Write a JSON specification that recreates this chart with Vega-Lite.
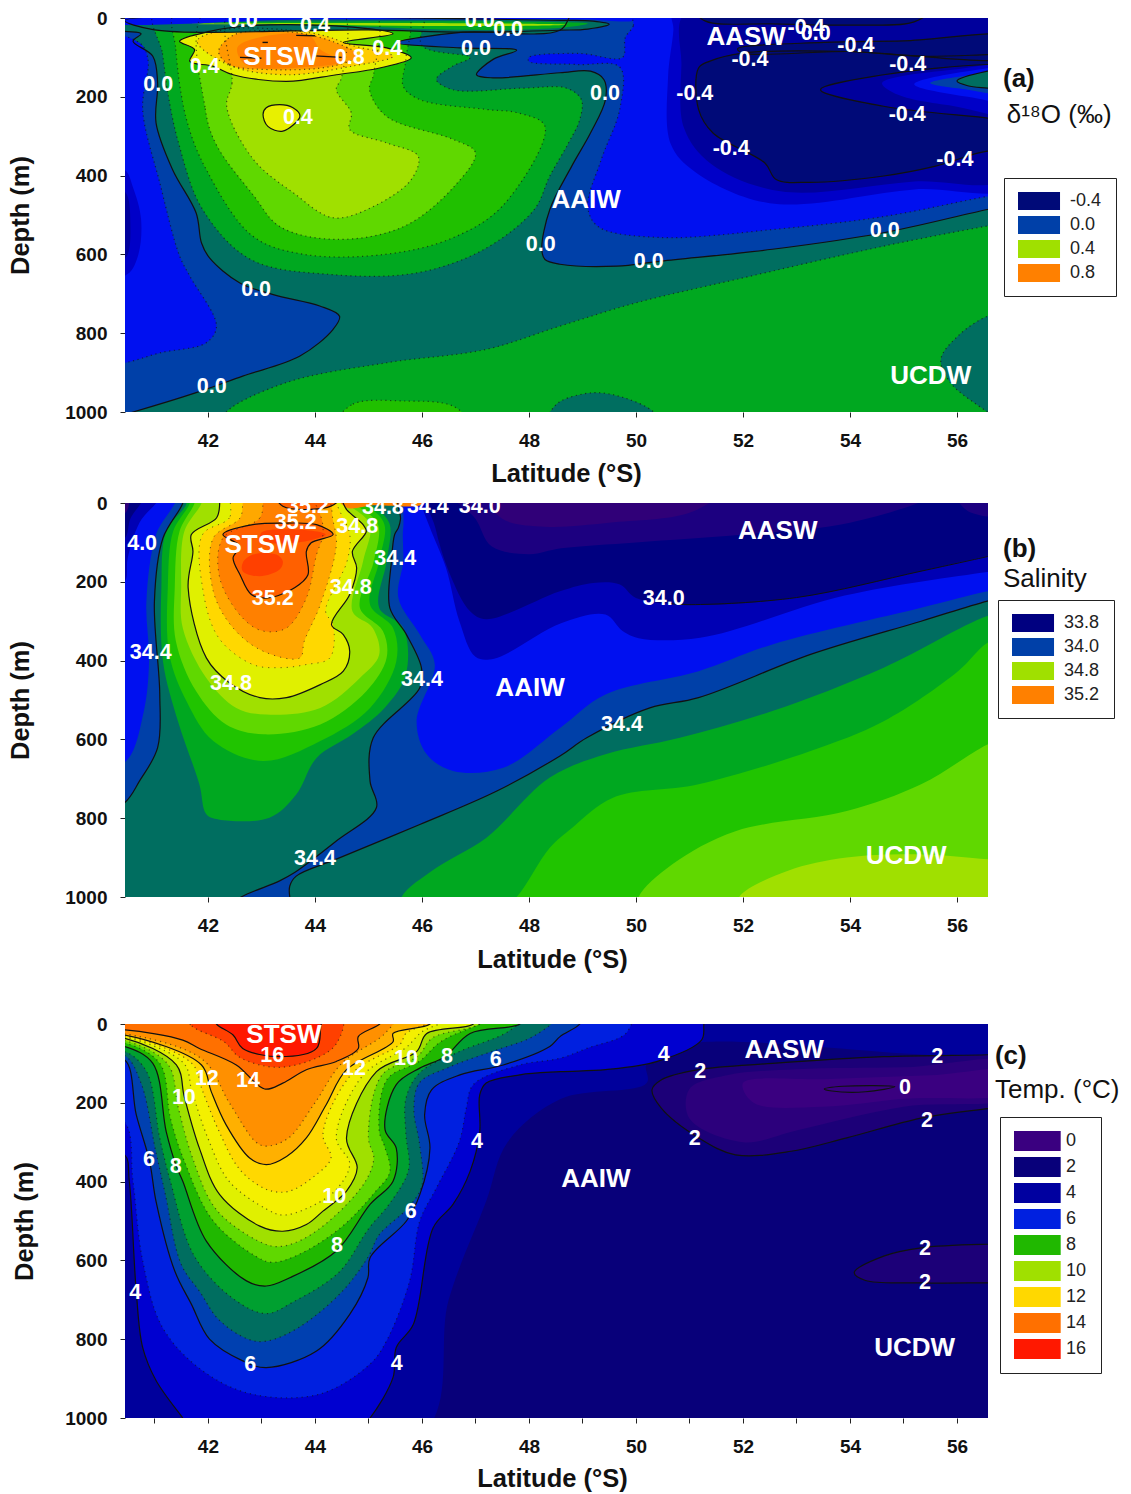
{"$schema":"https://vega.github.io/schema/vega-lite/v6.json","background":"white","padding":{"left":8,"top":9,"right":0,"bottom":0},"bounds":"flush","spacing":0,"resolve":{"scale":{"fill":"independent"},"legend":{"fill":"independent"}},"config":{"view":{"stroke":null},"font":"Liberation Sans","axis":{"labelFont":"Liberation Sans","titleFont":"Liberation Sans","labelFontWeight":"bold","titleFontWeight":"bold","labelFontSize":19,"titleFontSize":25.5,"labelColor":"#111","titleColor":"#111","domain":false,"grid":false,"tickColor":"#222","tickSize":5},"axisX":{"labelPadding":14},"axisY":{"labelPadding":13,"format":"d"},"legend":{"labelFont":"Liberation Sans","labelFontSize":18,"labelColor":"#222"}},
"datasets":{
"pa":[
{"n":0,"v":"0.08","x":39,"y":-80},{"n":0,"v":"0.08","x":58,"y":-80},{"n":0,"v":"0.08","x":58,"y":1080},{"n":0,"v":"0.08","x":39,"y":1080},
{"n":1,"v":"0.0","k":"c","x":40.44,"y":34},{"n":1,"v":"0.0","k":"c","x":40.75,"y":40},{"n":1,"v":"0.0","k":"c","x":40.6,"y":59},{"n":1,"v":"0.0","k":"c","x":40.97,"y":97},{"n":1,"v":"0.0","k":"c","x":41.06,"y":165},{"n":1,"v":"0.0","k":"c","x":41.03,"y":266},{"n":1,"v":"0.0","k":"c","x":41.34,"y":385},{"n":1,"v":"0.0","k":"c","x":41.78,"y":495},{"n":1,"v":"0.0","k":"c","x":41.88,"y":571},{"n":1,"v":"0.0","k":"c","x":42.03,"y":609},{"n":1,"v":"0.0","k":"c","x":42.59,"y":672},{"n":1,"v":"0.0","k":"c","x":43.22,"y":702},{"n":1,"v":"0.0","k":"c","x":44.09,"y":731},{"n":1,"v":"0.0","k":"c","x":44.46,"y":757},{"n":1,"v":"0.0","k":"c","x":44.34,"y":790},{"n":1,"v":"0.0","k":"c","x":43.72,"y":858},{"n":1,"v":"0.0","k":"c","x":42.65,"y":909},{"n":1,"v":"0.0","k":"c","x":41.78,"y":951},{"n":1,"v":"0.0","k":"c","x":40.6,"y":1000},{"n":1,"v":"0.0","k":"c","x":39.5,"y":1040},{"n":1,"v":"0.0","k":"c","x":39.5,"y":20},
{"n":2,"v":"-0.1","k":"d","x":40.72,"y":63},{"n":2,"v":"-0.1","k":"d","x":40.88,"y":106},{"n":2,"v":"-0.1","k":"d","x":40.78,"y":232},{"n":2,"v":"-0.1","k":"d","x":41.1,"y":418},{"n":2,"v":"-0.1","k":"d","x":41.47,"y":604},{"n":2,"v":"-0.1","k":"d","x":41.66,"y":655},{"n":2,"v":"-0.1","k":"d","x":42.16,"y":782},{"n":2,"v":"-0.1","k":"d","x":41.97,"y":824},{"n":2,"v":"-0.1","k":"d","x":41.1,"y":850},{"n":2,"v":"-0.1","k":"d","x":40.44,"y":875},{"n":2,"v":"-0.1","k":"d","x":39.8,"y":880},{"n":2,"v":"-0.1","k":"d","x":39.8,"y":50},
{"n":3,"v":"-0.2","x":40.44,"y":385},{"n":3,"v":"-0.2","x":40.6,"y":430},{"n":3,"v":"-0.2","x":40.75,"y":510},{"n":3,"v":"-0.2","x":40.7,"y":600},{"n":3,"v":"-0.2","x":40.5,"y":650},{"n":3,"v":"-0.2","x":40,"y":660},{"n":3,"v":"-0.2","x":40,"y":380},
{"n":4,"v":"-0.3","x":40.44,"y":440},{"n":4,"v":"-0.3","x":40.55,"y":520},{"n":4,"v":"-0.3","x":40.45,"y":610},{"n":4,"v":"-0.3","x":40,"y":600},{"n":4,"v":"-0.3","x":40,"y":440},
{"n":5,"v":"0.16","k":"d","x":41,"y":-20},{"n":5,"v":"0.16","k":"d","x":41.15,"y":90},{"n":5,"v":"0.16","k":"d","x":41.25,"y":190},{"n":5,"v":"0.16","k":"d","x":41.45,"y":317},{"n":5,"v":"0.16","k":"d","x":41.9,"y":486},{"n":5,"v":"0.16","k":"d","x":42.8,"y":613},{"n":5,"v":"0.16","k":"d","x":44.3,"y":651},{"n":5,"v":"0.16","k":"d","x":45.9,"y":647},{"n":5,"v":"0.16","k":"d","x":47.15,"y":588},{"n":5,"v":"0.16","k":"d","x":48.1,"y":486},{"n":5,"v":"0.16","k":"d","x":48.39,"y":401},{"n":5,"v":"0.16","k":"d","x":48.74,"y":317},{"n":5,"v":"0.16","k":"d","x":48.95,"y":258},{"n":5,"v":"0.16","k":"d","x":48.98,"y":207},{"n":5,"v":"0.16","k":"d","x":48.7,"y":178},{"n":5,"v":"0.16","k":"d","x":47.9,"y":178},{"n":5,"v":"0.16","k":"d","x":46.58,"y":182},{"n":5,"v":"0.16","k":"d","x":46.27,"y":156},{"n":5,"v":"0.16","k":"d","x":46.58,"y":122},{"n":5,"v":"0.16","k":"d","x":46.9,"y":100},{"n":5,"v":"0.16","k":"d","x":46,"y":70},{"n":5,"v":"0.16","k":"d","x":46,"y":-20},
{"n":6,"v":"0.24","k":"d","x":41.4,"y":-20},{"n":6,"v":"0.24","k":"d","x":41.4,"y":80},{"n":6,"v":"0.24","k":"d","x":41.6,"y":258},{"n":6,"v":"0.24","k":"d","x":41.97,"y":385},{"n":6,"v":"0.24","k":"d","x":42.84,"y":554},{"n":6,"v":"0.24","k":"d","x":43.8,"y":600},{"n":6,"v":"0.24","k":"d","x":45.3,"y":600},{"n":6,"v":"0.24","k":"d","x":46.54,"y":560},{"n":6,"v":"0.24","k":"d","x":47.5,"y":478},{"n":6,"v":"0.24","k":"d","x":48.3,"y":275},{"n":6,"v":"0.24","k":"d","x":47.8,"y":241},{"n":6,"v":"0.24","k":"d","x":47.2,"y":232},{"n":6,"v":"0.24","k":"d","x":45.96,"y":207},{"n":6,"v":"0.24","k":"d","x":45.65,"y":173},{"n":6,"v":"0.24","k":"d","x":45.7,"y":105},{"n":6,"v":"0.24","k":"d","x":45.7,"y":-20},
{"n":7,"v":"0.32","k":"d","x":41.95,"y":-20},{"n":7,"v":"0.32","k":"d","x":41.95,"y":230},{"n":7,"v":"0.32","k":"d","x":42.15,"y":320},{"n":7,"v":"0.32","k":"d","x":42.85,"y":450},{"n":7,"v":"0.32","k":"d","x":43.35,"y":530},{"n":7,"v":"0.32","k":"d","x":44.4,"y":562},{"n":7,"v":"0.32","k":"d","x":45.65,"y":530},{"n":7,"v":"0.32","k":"d","x":46.6,"y":428},{"n":7,"v":"0.32","k":"d","x":47,"y":342},{"n":7,"v":"0.32","k":"d","x":46.58,"y":308},{"n":7,"v":"0.32","k":"d","x":45.34,"y":250},{"n":7,"v":"0.32","k":"d","x":45.02,"y":182},{"n":7,"v":"0.32","k":"d","x":45.1,"y":140},{"n":7,"v":"0.32","k":"d","x":45.1,"y":-20},
{"n":8,"v":"0.4","k":"d","x":42.4,"y":-20},{"n":8,"v":"0.4","k":"d","x":42.45,"y":165},{"n":8,"v":"0.4","k":"d","x":42.35,"y":224},{"n":8,"v":"0.4","k":"d","x":42.85,"y":359},{"n":8,"v":"0.4","k":"d","x":43.6,"y":444},{"n":8,"v":"0.4","k":"d","x":44.34,"y":507},{"n":8,"v":"0.4","k":"d","x":45.1,"y":478},{"n":8,"v":"0.4","k":"d","x":45.8,"y":410},{"n":8,"v":"0.4","k":"d","x":45.93,"y":351},{"n":8,"v":"0.4","k":"d","x":45.34,"y":317},{"n":8,"v":"0.4","k":"d","x":44.65,"y":283},{"n":8,"v":"0.4","k":"d","x":44.68,"y":241},{"n":8,"v":"0.4","k":"d","x":44.4,"y":182},{"n":8,"v":"0.4","k":"d","x":44.5,"y":150},{"n":8,"v":"0.4","k":"d","x":44.5,"y":-20},
{"n":9,"v":"0.5","k":"c","x":41.47,"y":59},{"n":9,"v":"0.5","k":"c","x":41.75,"y":80},{"n":9,"v":"0.5","k":"c","x":41.66,"y":110},{"n":9,"v":"0.5","k":"c","x":42.09,"y":122},{"n":9,"v":"0.5","k":"c","x":42.47,"y":144},{"n":9,"v":"0.5","k":"c","x":43.47,"y":161},{"n":9,"v":"0.5","k":"c","x":44.4,"y":144},{"n":9,"v":"0.5","k":"c","x":45.21,"y":127},{"n":9,"v":"0.5","k":"c","x":45.8,"y":101},{"n":9,"v":"0.5","k":"c","x":45.34,"y":76},{"n":9,"v":"0.5","k":"c","x":44.53,"y":62},{"n":9,"v":"0.5","k":"c","x":45.46,"y":40},{"n":9,"v":"0.5","k":"c","x":44.71,"y":23},{"n":9,"v":"0.5","k":"c","x":42.84,"y":19},{"n":9,"v":"0.5","k":"c","x":42.03,"y":34},
{"n":10,"v":"0.5","k":"c","x":43.03,"y":245},{"n":10,"v":"0.5","k":"c","x":43.09,"y":228},{"n":10,"v":"0.5","k":"c","x":43.34,"y":220},{"n":10,"v":"0.5","k":"c","x":43.59,"y":228},{"n":10,"v":"0.5","k":"c","x":43.72,"y":249},{"n":10,"v":"0.5","k":"c","x":43.4,"y":287},{"n":10,"v":"0.5","k":"c","x":43.12,"y":275},
{"n":11,"v":"0.6","k":"d","x":41.8,"y":59},{"n":11,"v":"0.6","k":"d","x":42.4,"y":120},{"n":11,"v":"0.6","k":"d","x":43.47,"y":144},{"n":11,"v":"0.6","k":"d","x":44.7,"y":122},{"n":11,"v":"0.6","k":"d","x":45.46,"y":97},{"n":11,"v":"0.6","k":"d","x":44.7,"y":70},{"n":11,"v":"0.6","k":"d","x":44.2,"y":46},{"n":11,"v":"0.6","k":"d","x":43.47,"y":30},{"n":11,"v":"0.6","k":"d","x":42.3,"y":30},
{"n":12,"v":"0.7","k":"d","x":42.2,"y":85},{"n":12,"v":"0.7","k":"d","x":42.4,"y":118},{"n":12,"v":"0.7","k":"d","x":43.15,"y":131},{"n":12,"v":"0.7","k":"d","x":44.34,"y":122},{"n":12,"v":"0.7","k":"d","x":44.8,"y":95},{"n":12,"v":"0.7","k":"d","x":44.34,"y":60},{"n":12,"v":"0.7","k":"d","x":43.5,"y":35},{"n":12,"v":"0.7","k":"d","x":42.5,"y":42},
{"n":13,"v":"0.8","x":42.55,"y":75},{"n":13,"v":"0.8","x":43,"y":48},{"n":13,"v":"0.8","x":43.9,"y":45},{"n":13,"v":"0.8","x":44.1,"y":80},{"n":13,"v":"0.8","x":44.5,"y":110},{"n":13,"v":"0.8","x":43.8,"y":125},{"n":13,"v":"0.8","x":42.7,"y":118},
{"n":14,"k":"o","x":42.6,"y":100},{"n":14,"k":"o","x":43,"y":102},{"n":15,"k":"o","x":44,"y":96},{"n":15,"k":"o","x":44.5,"y":100},{"n":16,"k":"o","x":43.65,"y":44},{"n":16,"k":"o","x":44,"y":45},{"n":17,"k":"o","x":43.02,"y":62},{"n":17,"k":"o","x":43.12,"y":62},
{"n":18,"v":"0.0","k":"c","x":48.9,"y":-20},{"n":18,"v":"0.0","k":"c","x":48.58,"y":31},{"n":18,"v":"0.0","k":"c","x":46.77,"y":36},{"n":18,"v":"0.0","k":"c","x":45.52,"y":63},{"n":18,"v":"0.0","k":"c","x":46.71,"y":76},{"n":18,"v":"0.0","k":"c","x":47.77,"y":82},{"n":18,"v":"0.0","k":"c","x":47.33,"y":105},{"n":18,"v":"0.0","k":"c","x":47.02,"y":144},{"n":18,"v":"0.0","k":"c","x":47.33,"y":152},{"n":18,"v":"0.0","k":"c","x":48.58,"y":139},{"n":18,"v":"0.0","k":"c","x":49.15,"y":135},{"n":18,"v":"0.0","k":"c","x":49.4,"y":156},{"n":18,"v":"0.0","k":"c","x":49.43,"y":207},{"n":18,"v":"0.0","k":"c","x":49.15,"y":292},{"n":18,"v":"0.0","k":"c","x":48.8,"y":376},{"n":18,"v":"0.0","k":"c","x":48.39,"y":486},{"n":18,"v":"0.0","k":"c","x":48.24,"y":587},{"n":18,"v":"0.0","k":"c","x":48.3,"y":613},{"n":18,"v":"0.0","k":"c","x":48.58,"y":625},{"n":18,"v":"0.0","k":"c","x":49.64,"y":630},{"n":18,"v":"0.0","k":"c","x":50.47,"y":617},{"n":18,"v":"0.0","k":"c","x":52.55,"y":587},{"n":18,"v":"0.0","k":"c","x":54.63,"y":545},{"n":18,"v":"0.0","k":"c","x":56.57,"y":486},{"n":18,"v":"0.0","k":"c","x":57.2,"y":470},{"n":18,"v":"0.0","k":"c","x":57.2,"y":-20},
{"n":19,"v":"0.16","k":"d","x":42.2,"y":1040},{"n":19,"v":"0.16","k":"d","x":42.34,"y":1000},{"n":19,"v":"0.16","k":"d","x":43.47,"y":925},{"n":19,"v":"0.16","k":"d","x":45.34,"y":875},{"n":19,"v":"0.16","k":"d","x":47.2,"y":841},{"n":19,"v":"0.16","k":"d","x":48.58,"y":782},{"n":19,"v":"0.16","k":"d","x":50,"y":723},{"n":19,"v":"0.16","k":"d","x":51.86,"y":664},{"n":19,"v":"0.16","k":"d","x":54.63,"y":579},{"n":19,"v":"0.16","k":"d","x":56.57,"y":528},{"n":19,"v":"0.16","k":"d","x":57.2,"y":515},{"n":19,"v":"0.16","k":"d","x":57.2,"y":740},{"n":19,"v":"0.16","k":"d","x":56.57,"y":757},{"n":19,"v":"0.16","k":"d","x":56.02,"y":807},{"n":19,"v":"0.16","k":"d","x":55.7,"y":866},{"n":19,"v":"0.16","k":"d","x":55.88,"y":926},{"n":19,"v":"0.16","k":"d","x":56.57,"y":1000},{"n":19,"v":"0.16","k":"d","x":57,"y":1040},{"n":19,"v":"0.16","k":"d","x":50.5,"y":1040},{"n":19,"v":"0.16","k":"d","x":50.33,"y":1000},{"n":19,"v":"0.16","k":"d","x":49.78,"y":964},{"n":19,"v":"0.16","k":"d","x":49.22,"y":951},{"n":19,"v":"0.16","k":"d","x":48.6,"y":972},{"n":19,"v":"0.16","k":"d","x":48.39,"y":1000},{"n":19,"v":"0.16","k":"d","x":48.2,"y":1040},
{"n":20,"v":"0.24","k":"d","x":44.4,"y":1030},{"n":20,"v":"0.24","k":"d","x":44.71,"y":980},{"n":20,"v":"0.24","k":"d","x":45.65,"y":972},{"n":20,"v":"0.24","k":"d","x":46.58,"y":985},{"n":20,"v":"0.24","k":"d","x":46.9,"y":1030},
{"n":21,"v":"-0.1","k":"d","x":49.95,"y":-20},{"n":21,"v":"-0.1","k":"d","x":49.95,"y":20},{"n":21,"v":"-0.1","k":"d","x":49.8,"y":50},{"n":21,"v":"-0.1","k":"d","x":49.75,"y":100},{"n":21,"v":"-0.1","k":"d","x":48.95,"y":90},{"n":21,"v":"-0.1","k":"d","x":48,"y":100},{"n":21,"v":"-0.1","k":"d","x":48,"y":110},{"n":21,"v":"-0.1","k":"d","x":48.9,"y":118},{"n":21,"v":"-0.1","k":"d","x":49.7,"y":125},{"n":21,"v":"-0.1","k":"d","x":49.7,"y":230},{"n":21,"v":"-0.1","k":"d","x":49.35,"y":360},{"n":21,"v":"-0.1","k":"d","x":49.1,"y":480},{"n":21,"v":"-0.1","k":"d","x":49.3,"y":530},{"n":21,"v":"-0.1","k":"d","x":50.45,"y":557},{"n":21,"v":"-0.1","k":"d","x":52.55,"y":537},{"n":21,"v":"-0.1","k":"d","x":54.63,"y":504},{"n":21,"v":"-0.1","k":"d","x":56.6,"y":452},{"n":21,"v":"-0.1","k":"d","x":57.2,"y":440},{"n":21,"v":"-0.1","k":"d","x":57.2,"y":-20},
{"n":22,"v":"-0.2","x":50.7,"y":-20},{"n":22,"v":"-0.2","x":50.7,"y":30},{"n":22,"v":"-0.2","x":50.6,"y":150},{"n":22,"v":"-0.2","x":50.65,"y":320},{"n":22,"v":"-0.2","x":51.1,"y":390},{"n":22,"v":"-0.2","x":52.5,"y":470},{"n":22,"v":"-0.2","x":55.2,"y":435},{"n":22,"v":"-0.2","x":57.2,"y":420},{"n":22,"v":"-0.2","x":57.2,"y":-20},
{"n":23,"v":"-0.3","x":50.95,"y":-20},{"n":23,"v":"-0.3","x":50.85,"y":120},{"n":23,"v":"-0.3","x":50.9,"y":280},{"n":23,"v":"-0.3","x":51.4,"y":370},{"n":23,"v":"-0.3","x":52.7,"y":440},{"n":23,"v":"-0.3","x":55.2,"y":415},{"n":23,"v":"-0.3","x":57,"y":400},{"n":23,"v":"-0.3","x":57,"y":-20},
{"n":24,"v":"-0.4","k":"c","x":51.17,"y":127},{"n":24,"v":"-0.4","k":"c","x":51.37,"y":110},{"n":24,"v":"-0.4","k":"c","x":52,"y":89},{"n":24,"v":"-0.4","k":"c","x":53.94,"y":85},{"n":24,"v":"-0.4","k":"c","x":55.33,"y":97},{"n":24,"v":"-0.4","k":"c","x":56.57,"y":93},{"n":24,"v":"-0.4","k":"c","x":57.2,"y":90},{"n":24,"v":"-0.4","k":"c","x":57.2,"y":120},{"n":24,"v":"-0.4","k":"c","x":56.57,"y":118},{"n":24,"v":"-0.4","k":"c","x":54.63,"y":144},{"n":24,"v":"-0.4","k":"c","x":53.45,"y":182},{"n":24,"v":"-0.4","k":"c","x":54.63,"y":224},{"n":24,"v":"-0.4","k":"c","x":56.57,"y":254},{"n":24,"v":"-0.4","k":"c","x":57.2,"y":265},{"n":24,"v":"-0.4","k":"c","x":57.2,"y":340},{"n":24,"v":"-0.4","k":"c","x":56.57,"y":338},{"n":24,"v":"-0.4","k":"c","x":55.6,"y":376},{"n":24,"v":"-0.4","k":"c","x":54.63,"y":401},{"n":24,"v":"-0.4","k":"c","x":53.25,"y":417},{"n":24,"v":"-0.4","k":"c","x":52.62,"y":410},{"n":24,"v":"-0.4","k":"c","x":52.41,"y":368},{"n":24,"v":"-0.4","k":"c","x":51.44,"y":292},{"n":24,"v":"-0.4","k":"c","x":51.17,"y":232},
{"n":25,"v":"-0.2","x":54.6,"y":165},{"n":25,"v":"-0.2","x":56,"y":130},{"n":25,"v":"-0.2","x":57.2,"y":125},{"n":25,"v":"-0.2","x":57.2,"y":245},{"n":25,"v":"-0.2","x":56,"y":225},{"n":25,"v":"-0.2","x":54.9,"y":195},
{"n":26,"v":"-0.1","x":55.2,"y":168},{"n":26,"v":"-0.1","x":56.2,"y":135},{"n":26,"v":"-0.1","x":57.2,"y":130},{"n":26,"v":"-0.1","x":57.2,"y":210},{"n":26,"v":"-0.1","x":56.2,"y":200},
{"n":27,"v":"0.0","x":55.5,"y":165},{"n":27,"v":"0.0","x":56.1,"y":148},{"n":27,"v":"0.0","x":57.2,"y":135},{"n":27,"v":"0.0","x":57.2,"y":190},{"n":27,"v":"0.0","x":56.1,"y":180},
{"n":28,"v":"0.08","k":"c","x":56.0,"y":160},{"n":28,"v":"0.08","k":"c","x":56.57,"y":135},{"n":28,"v":"0.08","k":"c","x":57.2,"y":125},{"n":28,"v":"0.08","k":"c","x":57.2,"y":185},{"n":28,"v":"0.08","k":"c","x":56.57,"y":178},{"n":28,"v":"0.08","k":"c","x":56.2,"y":172},
{"n":29,"v":"-0.4","k":"c","x":51.9,"y":78},{"n":29,"v":"-0.4","k":"c","x":53.5,"y":62},{"n":29,"v":"-0.4","k":"c","x":55,"y":58},{"n":29,"v":"-0.4","k":"c","x":57.2,"y":50},{"n":29,"v":"-0.4","k":"c","x":57.2,"y":95},{"n":29,"v":"-0.4","k":"c","x":53.94,"y":85},{"n":29,"v":"-0.4","k":"c","x":52,"y":89},
{"n":30,"v":"-0.4","k":"c","x":51.1,"y":-20},{"n":30,"v":"-0.4","k":"c","x":51.3,"y":8},{"n":30,"v":"-0.4","k":"c","x":52.5,"y":15},{"n":30,"v":"-0.4","k":"c","x":54,"y":18},{"n":30,"v":"-0.4","k":"c","x":55.2,"y":10},{"n":30,"v":"-0.4","k":"c","x":55.5,"y":-20},
{"n":31,"v":"0.08","k":"c","x":40.44,"y":6},{"n":31,"v":"0.08","k":"c","x":48.6,"y":6},{"n":31,"v":"0.08","k":"c","x":49.2,"y":8},{"n":31,"v":"0.08","k":"c","x":49.5,"y":16},{"n":31,"v":"0.08","k":"c","x":49.1,"y":28},{"n":31,"v":"0.08","k":"c","x":48.58,"y":31},{"n":31,"v":"0.08","k":"c","x":46.77,"y":36},{"n":31,"v":"0.08","k":"c","x":45,"y":30},{"n":31,"v":"0.08","k":"c","x":41,"y":30},
{"n":32,"v":"0.16","x":41.2,"y":12},{"n":32,"v":"0.16","x":44,"y":9},{"n":32,"v":"0.16","x":48.4,"y":10},{"n":32,"v":"0.16","x":49.1,"y":14},{"n":32,"v":"0.16","x":48.6,"y":25},{"n":32,"v":"0.16","x":46.7,"y":30},{"n":32,"v":"0.16","x":44,"y":17},
{"n":33,"v":"0.4","x":41.7,"y":15},{"n":33,"v":"0.4","x":44,"y":13},{"n":33,"v":"0.4","x":47.5,"y":14},{"n":33,"v":"0.4","x":48.7,"y":17},{"n":33,"v":"0.4","x":47.8,"y":20},{"n":33,"v":"0.4","x":46,"y":20},{"n":33,"v":"0.4","x":44,"y":17},
{"n":34,"v":"-0.1","x":39.5,"y":-20},{"n":34,"v":"-0.1","x":39.5,"y":3},{"n":34,"v":"-0.1","x":44,"y":4},{"n":34,"v":"-0.1","x":49,"y":4},{"n":34,"v":"-0.1","x":50,"y":3},{"n":34,"v":"-0.1","x":50,"y":-20}
],
"la":[{"t":"contour","s":"0.0","x":42.65,"y":8},{"t":"contour","s":"0.4","x":44,"y":20},{"t":"contour","s":"0.4","x":41.94,"y":124},{"t":"contour","s":"0.0","x":41.07,"y":170},{"t":"water","s":"STSW","x":43.36,"y":99},{"t":"contour","s":"0.8","x":44.65,"y":102},{"t":"contour","s":"0.4","x":45.35,"y":79},{"t":"contour","s":"0.4","x":43.68,"y":254},{"t":"contour","s":"0.0","x":47.08,"y":8},{"t":"contour","s":"0.0","x":47.61,"y":30},{"t":"contour","s":"0.0","x":47.01,"y":79},{"t":"contour","s":"0.0","x":49.42,"y":193},{"t":"water","s":"AASW","x":52.06,"y":48},{"t":"contour","s":"-0.4","x":53.18,"y":25},{"t":"contour","s":"0.0","x":53.36,"y":41},{"t":"contour","s":"-0.4","x":54.11,"y":71},{"t":"contour","s":"-0.4","x":52.13,"y":107},{"t":"contour","s":"-0.4","x":55.08,"y":119},{"t":"contour","s":"-0.4","x":51.1,"y":193},{"t":"contour","s":"-0.4","x":55.07,"y":246},{"t":"contour","s":"-0.4","x":51.78,"y":332},{"t":"contour","s":"-0.4","x":55.96,"y":360},{"t":"water","s":"AAIW","x":49.07,"y":462},{"t":"contour","s":"0.0","x":48.22,"y":576},{"t":"contour","s":"0.0","x":50.24,"y":619},{"t":"contour","s":"0.0","x":54.65,"y":541},{"t":"contour","s":"0.0","x":42.9,"y":690},{"t":"contour","s":"0.0","x":42.07,"y":937},{"t":"water","s":"UCDW","x":55.51,"y":909}],
"na":[{"t":"tag","s":"(a)","x":56.86,"y":155},{"t":"name","s":"δ¹⁸O (‰)","x":56.93,"y":246}],
"pb":[
{"n":0,"v":"34.45","x":39,"y":-80},{"n":0,"v":"34.45","x":58,"y":-80},{"n":0,"v":"34.45","x":58,"y":1080},{"n":0,"v":"34.45","x":39,"y":1080},
{"n":1,"v":"34.0","k":"c","x":41.53,"y":-20},{"n":1,"v":"34.0","k":"c","x":41.53,"y":0},{"n":1,"v":"34.0","k":"c","x":41.16,"y":89},{"n":1,"v":"34.0","k":"c","x":41,"y":249},{"n":1,"v":"34.0","k":"c","x":41.1,"y":486},{"n":1,"v":"34.0","k":"c","x":41.06,"y":621},{"n":1,"v":"34.0","k":"c","x":40.72,"y":706},{"n":1,"v":"34.0","k":"c","x":40.44,"y":761},{"n":1,"v":"34.0","k":"c","x":39.8,"y":800},{"n":1,"v":"34.0","k":"c","x":39.8,"y":-20},
{"n":2,"v":"33.95","x":41.4,"y":-20},{"n":2,"v":"33.95","x":41.03,"y":80},{"n":2,"v":"33.95","x":40.85,"y":250},{"n":2,"v":"33.95","x":40.9,"y":400},{"n":2,"v":"33.95","x":40.8,"y":530},{"n":2,"v":"33.95","x":40.47,"y":655},{"n":2,"v":"33.95","x":39.9,"y":670},{"n":2,"v":"33.95","x":39.9,"y":-20},
{"n":3,"v":"33.9","x":41.1,"y":-20},{"n":3,"v":"33.9","x":40.72,"y":50},{"n":3,"v":"33.9","x":40.5,"y":140},{"n":3,"v":"33.9","x":40.44,"y":200},{"n":3,"v":"33.9","x":40,"y":210},{"n":3,"v":"33.9","x":40,"y":-20},
{"n":4,"v":"33.8","x":40.8,"y":-20},{"n":4,"v":"33.8","x":40.55,"y":40},{"n":4,"v":"33.8","x":40.44,"y":90},{"n":4,"v":"33.8","x":40,"y":100},{"n":4,"v":"33.8","x":40,"y":-20},
{"n":5,"v":"33.4","x":40,"y":-20},{"n":5,"v":"33.4","x":40.5,"y":-20},{"n":5,"v":"33.4","x":40.46,"y":25},{"n":5,"v":"33.4","x":40,"y":40},
{"n":6,"v":"34.0","k":"c","x":45.6,"y":-20},{"n":6,"v":"34.0","k":"c","x":45.6,"y":40},{"n":6,"v":"34.0","k":"c","x":45.56,"y":63},{"n":6,"v":"34.0","k":"c","x":45.49,"y":80},{"n":6,"v":"34.0","k":"c","x":45.43,"y":148},{"n":6,"v":"34.0","k":"c","x":45.4,"y":266},{"n":6,"v":"34.0","k":"c","x":45.71,"y":334},{"n":6,"v":"34.0","k":"c","x":45.99,"y":418},{"n":6,"v":"34.0","k":"c","x":45.96,"y":469},{"n":6,"v":"34.0","k":"c","x":45.09,"y":596},{"n":6,"v":"34.0","k":"c","x":45.03,"y":706},{"n":6,"v":"34.0","k":"c","x":45.15,"y":773},{"n":6,"v":"34.0","k":"c","x":44.4,"y":858},{"n":6,"v":"34.0","k":"c","x":43.62,"y":938},{"n":6,"v":"34.0","k":"c","x":43.34,"y":959},{"n":6,"v":"34.0","k":"c","x":42.62,"y":1000},{"n":6,"v":"34.0","k":"c","x":42.3,"y":1030},{"n":6,"v":"34.0","k":"c","x":43.6,"y":1030},{"n":6,"v":"34.0","k":"c","x":43.53,"y":1000},{"n":6,"v":"34.0","k":"c","x":43.53,"y":972},{"n":6,"v":"34.0","k":"c","x":43.65,"y":947},{"n":6,"v":"34.0","k":"c","x":44.4,"y":904},{"n":6,"v":"34.0","k":"c","x":45.96,"y":816},{"n":6,"v":"34.0","k":"c","x":47.4,"y":731},{"n":6,"v":"34.0","k":"c","x":48.58,"y":642},{"n":6,"v":"34.0","k":"c","x":49.08,"y":596},{"n":6,"v":"34.0","k":"c","x":50.26,"y":520},{"n":6,"v":"34.0","k":"c","x":51.17,"y":494},{"n":6,"v":"34.0","k":"c","x":53.25,"y":385},{"n":6,"v":"34.0","k":"c","x":55.33,"y":300},{"n":6,"v":"34.0","k":"c","x":56.57,"y":249},{"n":6,"v":"34.0","k":"c","x":57.2,"y":230},{"n":6,"v":"34.0","k":"c","x":57.2,"y":-20},
{"n":7,"v":"33.95","x":45.8,"y":-20},{"n":7,"v":"33.95","x":45.65,"y":63},{"n":7,"v":"33.95","x":45.65,"y":148},{"n":7,"v":"33.95","x":45.56,"y":241},{"n":7,"v":"33.95","x":45.96,"y":334},{"n":7,"v":"33.95","x":46.24,"y":410},{"n":7,"v":"33.95","x":45.9,"y":554},{"n":7,"v":"33.95","x":46.09,"y":638},{"n":7,"v":"33.95","x":46.58,"y":680},{"n":7,"v":"33.95","x":47.52,"y":672},{"n":7,"v":"33.95","x":48.58,"y":571},{"n":7,"v":"33.95","x":49.43,"y":486},{"n":7,"v":"33.95","x":51.17,"y":427},{"n":7,"v":"33.95","x":52.55,"y":359},{"n":7,"v":"33.95","x":55.33,"y":266},{"n":7,"v":"33.95","x":56.57,"y":224},{"n":7,"v":"33.95","x":57.2,"y":210},{"n":7,"v":"33.95","x":57.2,"y":-20},
{"n":8,"v":"33.9","x":46,"y":-20},{"n":8,"v":"33.9","x":46,"y":5},{"n":8,"v":"33.9","x":46.15,"y":63},{"n":8,"v":"33.9","x":46.45,"y":165},{"n":8,"v":"33.9","x":46.7,"y":300},{"n":8,"v":"33.9","x":47,"y":390},{"n":8,"v":"33.9","x":47.35,"y":395},{"n":8,"v":"33.9","x":48.6,"y":305},{"n":8,"v":"33.9","x":49.43,"y":283},{"n":8,"v":"33.9","x":49.75,"y":325},{"n":8,"v":"33.9","x":50.05,"y":343},{"n":8,"v":"33.9","x":51.2,"y":342},{"n":8,"v":"33.9","x":53.9,"y":235},{"n":8,"v":"33.9","x":56.57,"y":175},{"n":8,"v":"33.9","x":57.2,"y":165},{"n":8,"v":"33.9","x":57.2,"y":-20},
{"n":9,"v":"33.8","x":46.15,"y":-20},{"n":9,"v":"33.8","x":46.25,"y":63},{"n":9,"v":"33.8","x":46.5,"y":173},{"n":9,"v":"33.8","x":46.9,"y":275},{"n":9,"v":"33.8","x":47.2,"y":295},{"n":9,"v":"33.8","x":48.58,"y":224},{"n":9,"v":"33.8","x":49.2,"y":203},{"n":9,"v":"33.8","x":49.7,"y":207},{"n":9,"v":"33.8","x":50,"y":241},{"n":9,"v":"33.8","x":51.03,"y":258},{"n":9,"v":"33.8","x":53,"y":240},{"n":9,"v":"33.8","x":55.33,"y":173},{"n":9,"v":"33.8","x":56.57,"y":135},{"n":9,"v":"33.8","x":57.2,"y":125},{"n":9,"v":"33.8","x":57.2,"y":-20},
{"n":10,"k":"o","x":50.6,"y":255},{"n":10,"k":"o","x":51.03,"y":258},{"n":10,"k":"o","x":53,"y":240},{"n":10,"k":"o","x":55.33,"y":173},{"n":10,"k":"o","x":56.6,"y":135},
{"n":11,"v":"33.6","x":46.6,"y":-20},{"n":11,"v":"33.6","x":47,"y":40},{"n":11,"v":"33.6","x":47.3,"y":110},{"n":11,"v":"33.6","x":48,"y":130},{"n":11,"v":"33.6","x":48.6,"y":115},{"n":11,"v":"33.6","x":50,"y":100},{"n":11,"v":"33.6","x":52,"y":80},{"n":11,"v":"33.6","x":54,"y":50},{"n":11,"v":"33.6","x":55.5,"y":-20},
{"n":12,"v":"33.4","x":47.2,"y":-20},{"n":12,"v":"33.4","x":47.5,"y":40},{"n":12,"v":"33.4","x":48.3,"y":60},{"n":12,"v":"33.4","x":49.5,"y":50},{"n":12,"v":"33.4","x":51,"y":25},{"n":12,"v":"33.4","x":51.5,"y":-20},
{"n":13,"v":"33.6","x":56,"y":-20},{"n":13,"v":"33.6","x":56.2,"y":20},{"n":13,"v":"33.6","x":57,"y":30},{"n":13,"v":"33.6","x":57,"y":-20},
{"n":14,"v":"34.5","x":41.5,"y":-20},{"n":14,"v":"34.5","x":41.6,"y":0},{"n":14,"v":"34.5","x":41.22,"y":72},{"n":14,"v":"34.5","x":41.13,"y":215},{"n":14,"v":"34.5","x":41.16,"y":402},{"n":14,"v":"34.5","x":41.44,"y":554},{"n":14,"v":"34.5","x":41.84,"y":714},{"n":14,"v":"34.5","x":41.97,"y":790},{"n":14,"v":"34.5","x":42.2,"y":803},{"n":14,"v":"34.5","x":43.15,"y":799},{"n":14,"v":"34.5","x":43.65,"y":740},{"n":14,"v":"34.5","x":44.03,"y":647},{"n":14,"v":"34.5","x":44.7,"y":587},{"n":14,"v":"34.5","x":45.3,"y":520},{"n":14,"v":"34.5","x":45.7,"y":435},{"n":14,"v":"34.5","x":45.65,"y":317},{"n":14,"v":"34.5","x":45.2,"y":266},{"n":14,"v":"34.5","x":45.34,"y":148},{"n":14,"v":"34.5","x":45.4,"y":55},{"n":14,"v":"34.5","x":45.2,"y":20},{"n":14,"v":"34.5","x":44.6,"y":-20},
{"n":15,"v":"34.6","x":41.65,"y":-20},{"n":15,"v":"34.6","x":41.66,"y":0},{"n":15,"v":"34.6","x":41.35,"y":72},{"n":15,"v":"34.6","x":41.25,"y":215},{"n":15,"v":"34.6","x":41.28,"y":385},{"n":15,"v":"34.6","x":41.6,"y":503},{"n":15,"v":"34.6","x":42.1,"y":604},{"n":15,"v":"34.6","x":43.03,"y":655},{"n":15,"v":"34.6","x":44.1,"y":604},{"n":15,"v":"34.6","x":45.03,"y":520},{"n":15,"v":"34.6","x":45.52,"y":402},{"n":15,"v":"34.6","x":45.46,"y":317},{"n":15,"v":"34.6","x":45.03,"y":258},{"n":15,"v":"34.6","x":45.2,"y":148},{"n":15,"v":"34.6","x":45.3,"y":55},{"n":15,"v":"34.6","x":45.03,"y":12},{"n":15,"v":"34.6","x":44.5,"y":-20},
{"n":16,"v":"34.7","x":41.75,"y":-20},{"n":16,"v":"34.7","x":41.75,"y":0},{"n":16,"v":"34.7","x":41.47,"y":72},{"n":16,"v":"34.7","x":41.38,"y":215},{"n":16,"v":"34.7","x":41.4,"y":350},{"n":16,"v":"34.7","x":41.78,"y":478},{"n":16,"v":"34.7","x":42.34,"y":562},{"n":16,"v":"34.7","x":43.03,"y":587},{"n":16,"v":"34.7","x":44.1,"y":562},{"n":16,"v":"34.7","x":44.96,"y":478},{"n":16,"v":"34.7","x":45.34,"y":393},{"n":16,"v":"34.7","x":45.27,"y":325},{"n":16,"v":"34.7","x":44.84,"y":266},{"n":16,"v":"34.7","x":45.1,"y":148},{"n":16,"v":"34.7","x":45.18,"y":55},{"n":16,"v":"34.7","x":44.84,"y":12},{"n":16,"v":"34.7","x":44.4,"y":-20},
{"n":17,"v":"34.8","x":41.88,"y":-20},{"n":17,"v":"34.8","x":41.88,"y":0},{"n":17,"v":"34.8","x":41.56,"y":72},{"n":17,"v":"34.8","x":41.5,"y":215},{"n":17,"v":"34.8","x":41.53,"y":317},{"n":17,"v":"34.8","x":41.97,"y":444},{"n":17,"v":"34.8","x":42.53,"y":520},{"n":17,"v":"34.8","x":43.09,"y":537},{"n":17,"v":"34.8","x":44.1,"y":520},{"n":17,"v":"34.8","x":44.84,"y":444},{"n":17,"v":"34.8","x":45.2,"y":385},{"n":17,"v":"34.8","x":45.08,"y":317},{"n":17,"v":"34.8","x":44.7,"y":275},{"n":17,"v":"34.8","x":44.9,"y":148},{"n":17,"v":"34.8","x":45.03,"y":55},{"n":17,"v":"34.8","x":44.7,"y":12},{"n":17,"v":"34.8","x":44.3,"y":-20},
{"n":18,"v":"34.9","k":"c","x":42.2,"y":-20},{"n":18,"v":"34.9","k":"c","x":42.22,"y":0},{"n":18,"v":"34.9","k":"c","x":42.16,"y":38},{"n":18,"v":"34.9","k":"c","x":41.69,"y":80},{"n":18,"v":"34.9","k":"c","x":41.72,"y":123},{"n":18,"v":"34.9","k":"c","x":41.63,"y":215},{"n":18,"v":"34.9","k":"c","x":41.97,"y":393},{"n":18,"v":"34.9","k":"c","x":42.4,"y":456},{"n":18,"v":"34.9","k":"c","x":42.97,"y":494},{"n":18,"v":"34.9","k":"c","x":43.47,"y":494},{"n":18,"v":"34.9","k":"c","x":44.1,"y":461},{"n":18,"v":"34.9","k":"c","x":44.53,"y":427},{"n":18,"v":"34.9","k":"c","x":44.65,"y":376},{"n":18,"v":"34.9","k":"c","x":44.53,"y":334},{"n":18,"v":"34.9","k":"c","x":44.31,"y":309},{"n":18,"v":"34.9","k":"c","x":44.65,"y":232},{"n":18,"v":"34.9","k":"c","x":44.78,"y":165},{"n":18,"v":"34.9","k":"c","x":44.7,"y":123},{"n":18,"v":"34.9","k":"c","x":44.96,"y":72},{"n":18,"v":"34.9","k":"c","x":44.9,"y":55},{"n":18,"v":"34.9","k":"c","x":44.6,"y":18},{"n":18,"v":"34.9","k":"c","x":44.4,"y":-20},
{"n":19,"v":"35.0","k":"d","x":42.47,"y":-20},{"n":19,"v":"35.0","k":"d","x":42.4,"y":38},{"n":19,"v":"35.0","k":"d","x":41.9,"y":80},{"n":19,"v":"35.0","k":"d","x":41.9,"y":215},{"n":19,"v":"35.0","k":"d","x":42.2,"y":342},{"n":19,"v":"35.0","k":"d","x":42.84,"y":410},{"n":19,"v":"35.0","k":"d","x":43.34,"y":418},{"n":19,"v":"35.0","k":"d","x":43.84,"y":410},{"n":19,"v":"35.0","k":"d","x":44.28,"y":393},{"n":19,"v":"35.0","k":"d","x":44.34,"y":309},{"n":19,"v":"35.0","k":"d","x":44.2,"y":275},{"n":19,"v":"35.0","k":"d","x":44.6,"y":148},{"n":19,"v":"35.0","k":"d","x":44.65,"y":80},{"n":19,"v":"35.0","k":"d","x":44.46,"y":20},{"n":19,"v":"35.0","k":"d","x":44.3,"y":-20},
{"n":20,"v":"35.1","k":"d","x":42.72,"y":-20},{"n":20,"v":"35.1","k":"d","x":42.6,"y":38},{"n":20,"v":"35.1","k":"d","x":42.1,"y":89},{"n":20,"v":"35.1","k":"d","x":42.1,"y":224},{"n":20,"v":"35.1","k":"d","x":42.47,"y":317},{"n":20,"v":"35.1","k":"d","x":43.03,"y":376},{"n":20,"v":"35.1","k":"d","x":43.72,"y":393},{"n":20,"v":"35.1","k":"d","x":43.8,"y":351},{"n":20,"v":"35.1","k":"d","x":44.1,"y":258},{"n":20,"v":"35.1","k":"d","x":44.4,"y":106},{"n":20,"v":"35.1","k":"d","x":44.34,"y":46},{"n":20,"v":"35.1","k":"d","x":44.2,"y":-20},
{"n":21,"v":"35.2","k":"d","x":43.09,"y":-20},{"n":21,"v":"35.2","k":"d","x":42.97,"y":38},{"n":21,"v":"35.2","k":"d","x":42.28,"y":89},{"n":21,"v":"35.2","k":"d","x":42.22,"y":190},{"n":21,"v":"35.2","k":"d","x":42.65,"y":292},{"n":21,"v":"35.2","k":"d","x":43.03,"y":325},{"n":21,"v":"35.2","k":"d","x":43.47,"y":317},{"n":21,"v":"35.2","k":"d","x":43.84,"y":241},{"n":21,"v":"35.2","k":"d","x":44.03,"y":131},{"n":21,"v":"35.2","k":"d","x":44.15,"y":80},{"n":21,"v":"35.2","k":"d","x":44.1,"y":30},{"n":21,"v":"35.2","k":"d","x":43.85,"y":-20},
{"n":22,"v":"35.3","k":"c","x":42.28,"y":80},{"n":22,"v":"35.3","k":"c","x":42.84,"y":55},{"n":22,"v":"35.3","k":"c","x":43.47,"y":51},{"n":22,"v":"35.3","k":"c","x":44.03,"y":55},{"n":22,"v":"35.3","k":"c","x":44.34,"y":80},{"n":22,"v":"35.3","k":"c","x":43.93,"y":101},{"n":22,"v":"35.3","k":"c","x":43.84,"y":123},{"n":22,"v":"35.3","k":"c","x":43.87,"y":182},{"n":22,"v":"35.3","k":"c","x":43.62,"y":215},{"n":22,"v":"35.3","k":"c","x":43.12,"y":241},{"n":22,"v":"35.3","k":"c","x":42.81,"y":232},{"n":22,"v":"35.3","k":"c","x":42.6,"y":182},{"n":22,"v":"35.3","k":"c","x":42.47,"y":139},{"n":22,"v":"35.3","k":"c","x":42.6,"y":110},
{"n":23,"v":"35.4","x":42.65,"y":152},{"n":23,"v":"35.4","x":42.84,"y":131},{"n":23,"v":"35.4","x":43.28,"y":131},{"n":23,"v":"35.4","x":43.4,"y":148},{"n":23,"v":"35.4","x":43.34,"y":169},{"n":23,"v":"35.4","x":42.97,"y":186},{"n":23,"v":"35.4","x":42.65,"y":173},
{"n":24,"v":"35.4","x":43,"y":75},{"n":24,"v":"35.4","x":43.9,"y":70},{"n":24,"v":"35.4","x":44.2,"y":80},{"n":24,"v":"35.4","x":43.7,"y":100},{"n":24,"v":"35.4","x":43,"y":95},
{"n":25,"v":"35.3","k":"c","x":43.28,"y":-20},{"n":25,"v":"35.3","k":"c","x":43.4,"y":8},{"n":25,"v":"35.3","k":"c","x":44.3,"y":8},{"n":25,"v":"35.3","k":"c","x":44.5,"y":-20},
{"n":26,"v":"35.2","x":44.4,"y":-20},{"n":26,"v":"35.2","x":44.6,"y":12},{"n":26,"v":"35.2","x":45.1,"y":6},{"n":26,"v":"35.2","x":46,"y":3},{"n":26,"v":"35.2","x":46,"y":-20},
{"n":27,"v":"34.5","x":45.6,"y":1040},{"n":27,"v":"34.5","x":45.62,"y":1000},{"n":27,"v":"34.5","x":46.27,"y":926},{"n":27,"v":"34.5","x":47.2,"y":850},{"n":27,"v":"34.5","x":48.39,"y":697},{"n":27,"v":"34.5","x":49.43,"y":638},{"n":27,"v":"34.5","x":50.82,"y":596},{"n":27,"v":"34.5","x":52.55,"y":528},{"n":27,"v":"34.5","x":54.63,"y":418},{"n":27,"v":"34.5","x":56.57,"y":287},{"n":27,"v":"34.5","x":57.2,"y":270},{"n":27,"v":"34.5","x":57.2,"y":1040},
{"n":28,"v":"34.6","x":47.4,"y":1040},{"n":28,"v":"34.6","x":47.77,"y":1000},{"n":28,"v":"34.6","x":48.39,"y":875},{"n":28,"v":"34.6","x":48.81,"y":824},{"n":28,"v":"34.6","x":49.57,"y":748},{"n":28,"v":"34.6","x":51.17,"y":714},{"n":28,"v":"34.6","x":53.25,"y":630},{"n":28,"v":"34.6","x":54.63,"y":554},{"n":28,"v":"34.6","x":56.02,"y":427},{"n":28,"v":"34.6","x":56.57,"y":355},{"n":28,"v":"34.6","x":57.2,"y":320},{"n":28,"v":"34.6","x":57.2,"y":1040},
{"n":29,"v":"34.7","x":50.05,"y":1040},{"n":29,"v":"34.7","x":50.05,"y":1000},{"n":29,"v":"34.7","x":50.68,"y":917},{"n":29,"v":"34.7","x":51.86,"y":833},{"n":29,"v":"34.7","x":53.94,"y":782},{"n":29,"v":"34.7","x":55.33,"y":714},{"n":29,"v":"34.7","x":56.57,"y":613},{"n":29,"v":"34.7","x":57.2,"y":580},{"n":29,"v":"34.7","x":57.2,"y":1040},
{"n":30,"v":"34.8","x":51.9,"y":1040},{"n":30,"v":"34.8","x":51.93,"y":1000},{"n":30,"v":"34.8","x":52.83,"y":934},{"n":30,"v":"34.8","x":53.94,"y":900},{"n":30,"v":"34.8","x":55.33,"y":892},{"n":30,"v":"34.8","x":56.57,"y":904},{"n":30,"v":"34.8","x":57.2,"y":910},{"n":30,"v":"34.8","x":57.2,"y":1040}
],
"lb":[{"t":"contour","s":"35.2","x":43.87,"y":10},{"t":"contour","s":"34.8","x":45.27,"y":13},{"t":"contour","s":"34.4","x":46.11,"y":10},{"t":"contour","s":"34.0","x":47.08,"y":10},{"t":"contour","s":"35.2","x":43.64,"y":51},{"t":"contour","s":"34.8","x":44.79,"y":61},{"t":"contour","s":"4.0","x":40.77,"y":104},{"t":"water","s":"STSW","x":43.01,"y":107},{"t":"contour","s":"34.4","x":45.5,"y":142},{"t":"contour","s":"34.8","x":44.67,"y":216},{"t":"contour","s":"35.2","x":43.21,"y":244},{"t":"contour","s":"34.0","x":50.52,"y":244},{"t":"water","s":"AASW","x":52.65,"y":71},{"t":"contour","s":"34.4","x":40.93,"y":381},{"t":"contour","s":"34.8","x":42.43,"y":459},{"t":"contour","s":"34.4","x":46,"y":449},{"t":"water","s":"AAIW","x":48.02,"y":470},{"t":"contour","s":"34.4","x":49.74,"y":563},{"t":"contour","s":"34.4","x":44,"y":904},{"t":"water","s":"UCDW","x":55.05,"y":896}],
"nb":[{"t":"tag","s":"(b)","x":56.86,"y":117},{"t":"name","s":"Salinity","x":56.86,"y":193}],
"pc":[
{"n":0,"v":"2","x":39,"y":-80},{"n":0,"v":"2","x":58,"y":-80},{"n":0,"v":"2","x":58,"y":1080},{"n":0,"v":"2","x":39,"y":1080},
{"n":1,"v":"3","x":46,"y":1040},{"n":1,"v":"3","x":46.5,"y":700},{"n":1,"v":"3","x":47.2,"y":450},{"n":1,"v":"3","x":47.6,"y":300},{"n":1,"v":"3","x":48.6,"y":190},{"n":1,"v":"3","x":50.2,"y":150},{"n":1,"v":"3","x":50.2,"y":100},{"n":1,"v":"3","x":51,"y":50},{"n":1,"v":"3","x":57.2,"y":60},{"n":1,"v":"3","x":57.2,"y":-20},{"n":1,"v":"3","x":39.8,"y":-20},{"n":1,"v":"3","x":39.8,"y":1040},
{"n":2,"v":"5","k":"c","x":39.8,"y":-20},{"n":2,"v":"5","k":"c","x":39.8,"y":320},{"n":2,"v":"5","k":"c","x":40.44,"y":332},{"n":2,"v":"5","k":"c","x":40.53,"y":399},{"n":2,"v":"5","k":"c","x":40.66,"y":678},{"n":2,"v":"5","k":"c","x":40.78,"y":821},{"n":2,"v":"5","k":"c","x":41.03,"y":905},{"n":2,"v":"5","k":"c","x":41.53,"y":1000},{"n":2,"v":"5","k":"c","x":41.7,"y":1030},{"n":2,"v":"5","k":"c","x":44.8,"y":1030},{"n":2,"v":"5","k":"c","x":45.03,"y":1000},{"n":2,"v":"5","k":"c","x":45.46,"y":897},{"n":2,"v":"5","k":"c","x":45.52,"y":821},{"n":2,"v":"5","k":"c","x":45.84,"y":762},{"n":2,"v":"5","k":"c","x":46.21,"y":517},{"n":2,"v":"5","k":"c","x":46.58,"y":458},{"n":2,"v":"5","k":"c","x":46.9,"y":374},{"n":2,"v":"5","k":"c","x":47.08,"y":273},{"n":2,"v":"5","k":"c","x":47.08,"y":180},{"n":2,"v":"5","k":"c","x":47.2,"y":150},{"n":2,"v":"5","k":"c","x":47.83,"y":129},{"n":2,"v":"5","k":"c","x":48.58,"y":121},{"n":2,"v":"5","k":"c","x":49.43,"y":116},{"n":2,"v":"5","k":"c","x":50.4,"y":95},{"n":2,"v":"5","k":"c","x":51.23,"y":40},{"n":2,"v":"5","k":"c","x":51.27,"y":0},{"n":2,"v":"5","k":"c","x":51.3,"y":-20},
{"n":3,"v":"6","k":"d","x":39.8,"y":240},{"n":3,"v":"6","k":"d","x":40.44,"y":250},{"n":3,"v":"6","k":"d","x":40.6,"y":400},{"n":3,"v":"6","k":"d","x":40.78,"y":600},{"n":3,"v":"6","k":"d","x":41.15,"y":770},{"n":3,"v":"6","k":"d","x":41.9,"y":880},{"n":3,"v":"6","k":"d","x":42.84,"y":940},{"n":3,"v":"6","k":"d","x":44.1,"y":939},{"n":3,"v":"6","k":"d","x":45.03,"y":863},{"n":3,"v":"6","k":"d","x":45.34,"y":804},{"n":3,"v":"6","k":"d","x":45.77,"y":652},{"n":3,"v":"6","k":"d","x":45.96,"y":500},{"n":3,"v":"6","k":"d","x":46.27,"y":416},{"n":3,"v":"6","k":"d","x":46.7,"y":298},{"n":3,"v":"6","k":"d","x":46.83,"y":213},{"n":3,"v":"6","k":"d","x":46.96,"y":154},{"n":3,"v":"6","k":"d","x":47.83,"y":104},{"n":3,"v":"6","k":"d","x":48.58,"y":87},{"n":3,"v":"6","k":"d","x":49.08,"y":62},{"n":3,"v":"6","k":"d","x":49.78,"y":28},{"n":3,"v":"6","k":"d","x":49.92,"y":0},{"n":3,"v":"6","k":"d","x":50,"y":-20},{"n":3,"v":"6","k":"d","x":39.8,"y":-20},
{"n":4,"v":"6.5","k":"c","x":39.8,"y":105},{"n":4,"v":"6.5","k":"c","x":40.44,"y":91},{"n":4,"v":"6.5","k":"c","x":40.66,"y":230},{"n":4,"v":"6.5","k":"c","x":40.91,"y":349},{"n":4,"v":"6.5","k":"c","x":41.03,"y":450},{"n":4,"v":"6.5","k":"c","x":41.38,"y":627},{"n":4,"v":"6.5","k":"c","x":41.69,"y":711},{"n":4,"v":"6.5","k":"c","x":42.03,"y":800},{"n":4,"v":"6.5","k":"c","x":42.65,"y":855},{"n":4,"v":"6.5","k":"c","x":43.09,"y":872},{"n":4,"v":"6.5","k":"c","x":44.03,"y":830},{"n":4,"v":"6.5","k":"c","x":44.65,"y":737},{"n":4,"v":"6.5","k":"c","x":44.99,"y":644},{"n":4,"v":"6.5","k":"c","x":45.03,"y":593},{"n":4,"v":"6.5","k":"c","x":45.71,"y":500},{"n":4,"v":"6.5","k":"c","x":45.96,"y":433},{"n":4,"v":"6.5","k":"c","x":46.15,"y":315},{"n":4,"v":"6.5","k":"c","x":46.05,"y":230},{"n":4,"v":"6.5","k":"c","x":46.18,"y":167},{"n":4,"v":"6.5","k":"c","x":46.71,"y":129},{"n":4,"v":"6.5","k":"c","x":47.52,"y":104},{"n":4,"v":"6.5","k":"c","x":48.39,"y":57},{"n":4,"v":"6.5","k":"c","x":48.58,"y":32},{"n":4,"v":"6.5","k":"c","x":48.95,"y":0},{"n":4,"v":"6.5","k":"c","x":49,"y":-20},{"n":4,"v":"6.5","k":"c","x":39.8,"y":-20},
{"n":5,"v":"7","k":"d","x":39.8,"y":85},{"n":5,"v":"7","k":"d","x":40.44,"y":80},{"n":5,"v":"7","k":"d","x":40.75,"y":150},{"n":5,"v":"7","k":"d","x":41.02,"y":320},{"n":5,"v":"7","k":"d","x":41.2,"y":430},{"n":5,"v":"7","k":"d","x":41.5,"y":610},{"n":5,"v":"7","k":"d","x":41.85,"y":680},{"n":5,"v":"7","k":"d","x":42.2,"y":750},{"n":5,"v":"7","k":"d","x":42.75,"y":800},{"n":5,"v":"7","k":"d","x":43.09,"y":805},{"n":5,"v":"7","k":"d","x":43.7,"y":770},{"n":5,"v":"7","k":"d","x":44.5,"y":680},{"n":5,"v":"7","k":"d","x":45,"y":590},{"n":5,"v":"7","k":"d","x":45.2,"y":535},{"n":5,"v":"7","k":"d","x":45.75,"y":465},{"n":5,"v":"7","k":"d","x":46,"y":410},{"n":5,"v":"7","k":"d","x":45.95,"y":300},{"n":5,"v":"7","k":"d","x":45.85,"y":220},{"n":5,"v":"7","k":"d","x":45.95,"y":150},{"n":5,"v":"7","k":"d","x":46.5,"y":110},{"n":5,"v":"7","k":"d","x":47.3,"y":70},{"n":5,"v":"7","k":"d","x":48.1,"y":30},{"n":5,"v":"7","k":"d","x":48.5,"y":-20},{"n":5,"v":"7","k":"d","x":39.8,"y":-20},
{"n":6,"v":"7.5","k":"d","x":39.8,"y":75},{"n":6,"v":"7.5","k":"d","x":40.44,"y":70},{"n":6,"v":"7.5","k":"d","x":40.85,"y":120},{"n":6,"v":"7.5","k":"d","x":41.1,"y":290},{"n":6,"v":"7.5","k":"d","x":41.3,"y":400},{"n":6,"v":"7.5","k":"d","x":41.75,"y":590},{"n":6,"v":"7.5","k":"d","x":42.5,"y":700},{"n":6,"v":"7.5","k":"d","x":43.09,"y":735},{"n":6,"v":"7.5","k":"d","x":43.6,"y":705},{"n":6,"v":"7.5","k":"d","x":44.45,"y":630},{"n":6,"v":"7.5","k":"d","x":45,"y":520},{"n":6,"v":"7.5","k":"d","x":45.4,"y":455},{"n":6,"v":"7.5","k":"d","x":45.75,"y":370},{"n":6,"v":"7.5","k":"d","x":45.7,"y":280},{"n":6,"v":"7.5","k":"d","x":45.7,"y":190},{"n":6,"v":"7.5","k":"d","x":45.95,"y":125},{"n":6,"v":"7.5","k":"d","x":46.7,"y":70},{"n":6,"v":"7.5","k":"d","x":47.6,"y":20},{"n":6,"v":"7.5","k":"d","x":47.9,"y":-20},{"n":6,"v":"7.5","k":"d","x":39.8,"y":-20},
{"n":7,"v":"8","k":"c","x":39.8,"y":50},{"n":7,"v":"8","k":"c","x":40.44,"y":57},{"n":7,"v":"8","k":"c","x":40.97,"y":100},{"n":7,"v":"8","k":"c","x":41.22,"y":273},{"n":7,"v":"8","k":"c","x":41.41,"y":361},{"n":7,"v":"8","k":"c","x":41.53,"y":399},{"n":7,"v":"8","k":"c","x":41.97,"y":551},{"n":7,"v":"8","k":"c","x":42.72,"y":652},{"n":7,"v":"8","k":"c","x":43.09,"y":665},{"n":7,"v":"8","k":"c","x":43.53,"y":644},{"n":7,"v":"8","k":"c","x":44.4,"y":576},{"n":7,"v":"8","k":"c","x":45.03,"y":458},{"n":7,"v":"8","k":"c","x":45.46,"y":399},{"n":7,"v":"8","k":"c","x":45.52,"y":315},{"n":7,"v":"8","k":"c","x":45.31,"y":268},{"n":7,"v":"8","k":"c","x":45.52,"y":154},{"n":7,"v":"8","k":"c","x":45.96,"y":112},{"n":7,"v":"8","k":"c","x":46.43,"y":83},{"n":7,"v":"8","k":"c","x":46.9,"y":24},{"n":7,"v":"8","k":"c","x":47.83,"y":0},{"n":7,"v":"8","k":"c","x":47.9,"y":-20},{"n":7,"v":"8","k":"c","x":39.8,"y":-20},
{"n":8,"v":"9","k":"d","x":39.8,"y":48},{"n":8,"v":"9","k":"d","x":40.44,"y":48},{"n":8,"v":"9","k":"d","x":41.1,"y":100},{"n":8,"v":"9","k":"d","x":41.3,"y":240},{"n":8,"v":"9","k":"d","x":41.55,"y":345},{"n":8,"v":"9","k":"d","x":42.1,"y":500},{"n":8,"v":"9","k":"d","x":42.9,"y":590},{"n":8,"v":"9","k":"d","x":43.2,"y":605},{"n":8,"v":"9","k":"d","x":43.7,"y":585},{"n":8,"v":"9","k":"d","x":44.5,"y":515},{"n":8,"v":"9","k":"d","x":45.1,"y":430},{"n":8,"v":"9","k":"d","x":45.4,"y":375},{"n":8,"v":"9","k":"d","x":45.3,"y":310},{"n":8,"v":"9","k":"d","x":45.2,"y":270},{"n":8,"v":"9","k":"d","x":45.35,"y":140},{"n":8,"v":"9","k":"d","x":45.95,"y":95},{"n":8,"v":"9","k":"d","x":46.35,"y":45},{"n":8,"v":"9","k":"d","x":47,"y":5},{"n":8,"v":"9","k":"d","x":47.5,"y":-20},{"n":8,"v":"9","k":"d","x":39.8,"y":-20},
{"n":9,"v":"10","k":"d","x":39.8,"y":40},{"n":9,"v":"10","k":"d","x":40.44,"y":42},{"n":9,"v":"10","k":"d","x":41.25,"y":102},{"n":9,"v":"10","k":"d","x":41.45,"y":215},{"n":9,"v":"10","k":"d","x":41.7,"y":335},{"n":9,"v":"10","k":"d","x":42.15,"y":470},{"n":9,"v":"10","k":"d","x":42.93,"y":550},{"n":9,"v":"10","k":"d","x":43.3,"y":565},{"n":9,"v":"10","k":"d","x":43.75,"y":548},{"n":9,"v":"10","k":"d","x":44.35,"y":490},{"n":9,"v":"10","k":"d","x":44.95,"y":398},{"n":9,"v":"10","k":"d","x":45.1,"y":340},{"n":9,"v":"10","k":"d","x":45,"y":290},{"n":9,"v":"10","k":"d","x":45.25,"y":130},{"n":9,"v":"10","k":"d","x":45.92,"y":82},{"n":9,"v":"10","k":"d","x":46.2,"y":35},{"n":9,"v":"10","k":"d","x":47,"y":5},{"n":9,"v":"10","k":"d","x":47.3,"y":-20},{"n":9,"v":"10","k":"d","x":39.8,"y":-20},
{"n":10,"v":"11","k":"c","x":39.8,"y":35},{"n":10,"v":"11","k":"c","x":40.44,"y":36},{"n":10,"v":"11","k":"c","x":41.41,"y":104},{"n":10,"v":"11","k":"c","x":41.56,"y":186},{"n":10,"v":"11","k":"c","x":41.84,"y":315},{"n":10,"v":"11","k":"c","x":42.22,"y":433},{"n":10,"v":"11","k":"c","x":42.97,"y":513},{"n":10,"v":"11","k":"c","x":43.4,"y":526},{"n":10,"v":"11","k":"c","x":43.84,"y":509},{"n":10,"v":"11","k":"c","x":44.15,"y":475},{"n":10,"v":"11","k":"c","x":44.59,"y":424},{"n":10,"v":"11","k":"c","x":44.79,"y":365},{"n":10,"v":"11","k":"c","x":44.59,"y":289},{"n":10,"v":"11","k":"c","x":45.15,"y":121},{"n":10,"v":"11","k":"c","x":45.9,"y":70},{"n":10,"v":"11","k":"c","x":46.09,"y":24},{"n":10,"v":"11","k":"c","x":46.96,"y":0},{"n":10,"v":"11","k":"c","x":47,"y":-20},{"n":10,"v":"11","k":"c","x":39.8,"y":-20},
{"n":11,"v":"11.5","k":"d","x":39.8,"y":33},{"n":11,"v":"11.5","k":"d","x":40.44,"y":33},{"n":11,"v":"11.5","k":"d","x":41.55,"y":100},{"n":11,"v":"11.5","k":"d","x":41.7,"y":170},{"n":11,"v":"11.5","k":"d","x":42,"y":290},{"n":11,"v":"11.5","k":"d","x":42.4,"y":400},{"n":11,"v":"11.5","k":"d","x":43.1,"y":470},{"n":11,"v":"11.5","k":"d","x":43.4,"y":485},{"n":11,"v":"11.5","k":"d","x":43.9,"y":465},{"n":11,"v":"11.5","k":"d","x":44.4,"y":420},{"n":11,"v":"11.5","k":"d","x":44.65,"y":355},{"n":11,"v":"11.5","k":"d","x":44.4,"y":290},{"n":11,"v":"11.5","k":"d","x":44.9,"y":130},{"n":11,"v":"11.5","k":"d","x":45.7,"y":60},{"n":11,"v":"11.5","k":"d","x":46,"y":20},{"n":11,"v":"11.5","k":"d","x":46.6,"y":-20},{"n":11,"v":"11.5","k":"d","x":39.8,"y":-20},
{"n":12,"v":"12","k":"d","x":39.8,"y":30},{"n":12,"v":"12","k":"d","x":40.44,"y":30},{"n":12,"v":"12","k":"d","x":41.7,"y":100},{"n":12,"v":"12","k":"d","x":41.9,"y":170},{"n":12,"v":"12","k":"d","x":42.2,"y":270},{"n":12,"v":"12","k":"d","x":42.6,"y":370},{"n":12,"v":"12","k":"d","x":43.1,"y":420},{"n":12,"v":"12","k":"d","x":43.5,"y":425},{"n":12,"v":"12","k":"d","x":44,"y":385},{"n":12,"v":"12","k":"d","x":44.3,"y":340},{"n":12,"v":"12","k":"d","x":44.15,"y":280},{"n":12,"v":"12","k":"d","x":44.7,"y":125},{"n":12,"v":"12","k":"d","x":45.6,"y":50},{"n":12,"v":"12","k":"d","x":45.7,"y":24},{"n":12,"v":"12","k":"d","x":46.4,"y":-20},{"n":12,"v":"12","k":"d","x":39.8,"y":-20},
{"n":13,"v":"13","k":"c","x":39.8,"y":28},{"n":13,"v":"13","k":"c","x":40.44,"y":28},{"n":13,"v":"13","k":"c","x":41.88,"y":104},{"n":13,"v":"13","k":"c","x":42.06,"y":171},{"n":13,"v":"13","k":"c","x":42.34,"y":256},{"n":13,"v":"13","k":"c","x":42.78,"y":340},{"n":13,"v":"13","k":"c","x":43.09,"y":357},{"n":13,"v":"13","k":"c","x":43.47,"y":336},{"n":13,"v":"13","k":"c","x":43.84,"y":289},{"n":13,"v":"13","k":"c","x":44.21,"y":205},{"n":13,"v":"13","k":"c","x":44.59,"y":116},{"n":13,"v":"13","k":"c","x":45.46,"y":45},{"n":13,"v":"13","k":"c","x":45.46,"y":24},{"n":13,"v":"13","k":"c","x":46.15,"y":0},{"n":13,"v":"13","k":"c","x":46.2,"y":-20},{"n":13,"v":"13","k":"c","x":39.8,"y":-20},
{"n":14,"v":"13.5","k":"d","x":39.8,"y":25},{"n":14,"v":"13.5","k":"d","x":40.44,"y":25},{"n":14,"v":"13.5","k":"d","x":41.9,"y":90},{"n":14,"v":"13.5","k":"d","x":42.4,"y":200},{"n":14,"v":"13.5","k":"d","x":42.9,"y":300},{"n":14,"v":"13.5","k":"d","x":43.09,"y":310},{"n":14,"v":"13.5","k":"d","x":43.5,"y":290},{"n":14,"v":"13.5","k":"d","x":44,"y":200},{"n":14,"v":"13.5","k":"d","x":44.5,"y":100},{"n":14,"v":"13.5","k":"d","x":45.3,"y":25},{"n":14,"v":"13.5","k":"d","x":45.5,"y":-20},{"n":14,"v":"13.5","k":"d","x":39.8,"y":-20},
{"n":15,"v":"14","k":"c","x":39.8,"y":15},{"n":15,"v":"14","k":"c","x":40.44,"y":15},{"n":15,"v":"14","k":"c","x":41.53,"y":41},{"n":15,"v":"14","k":"c","x":41.84,"y":62},{"n":15,"v":"14","k":"c","x":42.53,"y":104},{"n":15,"v":"14","k":"c","x":43.06,"y":165},{"n":15,"v":"14","k":"c","x":43.4,"y":150},{"n":15,"v":"14","k":"c","x":43.84,"y":116},{"n":15,"v":"14","k":"c","x":44.4,"y":95},{"n":15,"v":"14","k":"c","x":44.81,"y":62},{"n":15,"v":"14","k":"c","x":44.81,"y":32},{"n":15,"v":"14","k":"c","x":45.21,"y":0},{"n":15,"v":"14","k":"c","x":45.3,"y":-20},{"n":15,"v":"14","k":"c","x":39.8,"y":-20},
{"n":16,"v":"15","k":"d","x":41.6,"y":-20},{"n":16,"v":"15","k":"d","x":41.7,"y":5},{"n":16,"v":"15","k":"d","x":42.3,"y":45},{"n":16,"v":"15","k":"d","x":42.6,"y":85},{"n":16,"v":"15","k":"d","x":43.3,"y":110},{"n":16,"v":"15","k":"d","x":44.05,"y":85},{"n":16,"v":"15","k":"d","x":44.4,"y":50},{"n":16,"v":"15","k":"d","x":44.5,"y":-20},
{"n":17,"v":"16","k":"c","x":42.1,"y":-20},{"n":17,"v":"16","k":"c","x":42.16,"y":0},{"n":17,"v":"16","k":"c","x":42.47,"y":28},{"n":17,"v":"16","k":"c","x":42.65,"y":62},{"n":17,"v":"16","k":"c","x":43.34,"y":83},{"n":17,"v":"16","k":"c","x":44.03,"y":62},{"n":17,"v":"16","k":"c","x":44.12,"y":0},{"n":17,"v":"16","k":"c","x":44.2,"y":-20},
{"n":18,"v":"1","k":"c","x":56.57,"y":78},{"n":18,"v":"1","k":"c","x":54.63,"y":83},{"n":18,"v":"1","k":"c","x":52.55,"y":100},{"n":18,"v":"1","k":"c","x":51.17,"y":116},{"n":18,"v":"1","k":"c","x":50.47,"y":142},{"n":18,"v":"1","k":"c","x":50.3,"y":167},{"n":18,"v":"1","k":"c","x":50.47,"y":213},{"n":18,"v":"1","k":"c","x":51.17,"y":289},{"n":18,"v":"1","k":"c","x":51.86,"y":332},{"n":18,"v":"1","k":"c","x":52.9,"y":323},{"n":18,"v":"1","k":"c","x":53.94,"y":289},{"n":18,"v":"1","k":"c","x":55.33,"y":239},{"n":18,"v":"1","k":"c","x":56.57,"y":215},{"n":18,"v":"1","k":"c","x":57.2,"y":205},{"n":18,"v":"1","k":"c","x":57.2,"y":75},
{"n":19,"v":"0.5","x":51,"y":165},{"n":19,"v":"0.5","x":51.7,"y":130},{"n":19,"v":"0.5","x":53,"y":115},{"n":19,"v":"0.5","x":55,"y":110},{"n":19,"v":"0.5","x":57.2,"y":100},{"n":19,"v":"0.5","x":57.2,"y":180},{"n":19,"v":"0.5","x":55,"y":210},{"n":19,"v":"0.5","x":53,"y":270},{"n":19,"v":"0.5","x":52,"y":300},{"n":19,"v":"0.5","x":51,"y":240},
{"n":20,"v":"0","x":52,"y":150},{"n":20,"v":"0","x":53.5,"y":140},{"n":20,"v":"0","x":55.5,"y":130},{"n":20,"v":"0","x":57.2,"y":120},{"n":20,"v":"0","x":57.2,"y":170},{"n":20,"v":"0","x":55,"y":190},{"n":20,"v":"0","x":53.5,"y":210},{"n":20,"v":"0","x":52.2,"y":200},
{"n":21,"k":"c","x":53.52,"y":165},{"n":21,"k":"c","x":53.87,"y":158},{"n":21,"k":"c","x":54.84,"y":159},{"n":21,"k":"c","x":54.29,"y":172},{"n":21,"k":"c","x":53.66,"y":170},
{"n":22,"v":"1","k":"c","x":56.57,"y":559},{"n":22,"v":"1","k":"c","x":55.33,"y":568},{"n":22,"v":"1","k":"c","x":54.63,"y":589},{"n":22,"v":"1","k":"c","x":54.08,"y":631},{"n":22,"v":"1","k":"c","x":54.29,"y":651},{"n":22,"v":"1","k":"c","x":55.33,"y":657},{"n":22,"v":"1","k":"c","x":56.57,"y":657},{"n":22,"v":"1","k":"c","x":57.2,"y":657},{"n":22,"v":"1","k":"c","x":57.2,"y":559}
],
"lc":[{"t":"water","s":"STSW","x":43.42,"y":28},{"t":"contour","s":"16","x":43.2,"y":81},{"t":"contour","s":"14","x":42.75,"y":145},{"t":"contour","s":"12","x":41.98,"y":140},{"t":"contour","s":"10","x":41.55,"y":188},{"t":"contour","s":"12","x":44.73,"y":114},{"t":"contour","s":"10","x":45.7,"y":89},{"t":"contour","s":"8","x":46.47,"y":84},{"t":"contour","s":"6","x":47.38,"y":91},{"t":"contour","s":"4","x":50.52,"y":79},{"t":"contour","s":"2","x":51.2,"y":122},{"t":"water","s":"AASW","x":52.77,"y":66},{"t":"contour","s":"2","x":55.63,"y":84},{"t":"contour","s":"0","x":55.03,"y":162},{"t":"contour","s":"2","x":55.44,"y":246},{"t":"contour","s":"2","x":51.1,"y":292},{"t":"contour","s":"4","x":47.03,"y":299},{"t":"contour","s":"6","x":40.9,"y":345},{"t":"contour","s":"8","x":41.4,"y":363},{"t":"water","s":"AAIW","x":49.25,"y":393},{"t":"contour","s":"10","x":44.36,"y":439},{"t":"contour","s":"6","x":45.79,"y":477},{"t":"contour","s":"8","x":44.41,"y":563},{"t":"contour","s":"2","x":55.4,"y":571},{"t":"contour","s":"2","x":55.4,"y":657},{"t":"contour","s":"4","x":40.64,"y":683},{"t":"water","s":"UCDW","x":55.21,"y":822},{"t":"contour","s":"6","x":42.79,"y":866},{"t":"contour","s":"4","x":45.53,"y":863}],
"nc":[{"t":"tag","s":"(c)","x":56.71,"y":81},{"t":"name","s":"Temp. (°C)","x":56.71,"y":168}]
},
"vconcat":[
{"width":863,"height":394,"encoding":{"x":{"field":"x","type":"quantitative","scale":{"domain":[40.45,56.58],"nice":false,"zero":false},"axis":{"values":[42,44,46,48,50,52,54,56],"title":"Latitude (°S)","titlePadding":11,"titleX":441}},"y":{"field":"y","type":"quantitative","scale":{"domain":[0,1000],"reverse":true,"nice":false,"zero":false},"axis":{"values":[0,200,400,600,800,1000],"title":"Depth (m)","titlePadding":31}}},
"layer":[
{"data":{"name":"pa"},"transform":[{"filter":"isValid(datum.v)"},{"window":[{"op":"row_number","as":"i"}]}],"mark":{"type":"line","interpolate":"catmull-rom-closed","clip":true,"strokeWidth":0},"encoding":{"order":{"field":"i","type":"quantitative"},"detail":{"field":"n"},"fill":{"field":"v","type":"nominal","scale":{"domain":["-0.4","-0.3","-0.2","-0.1","0.0","0.08","0.16","0.24","0.32","0.4","0.5","0.6","0.7","0.8"],"range":["#000a78","#00009c","#0000c8","#0010f0","#0040a8","#006e60","#00a820","#20c000","#60d800","#a0e000","#e8f000","#ffcc00","#ff9800","#ff8000"]},"legend":{"values":["-0.4","0.0","0.4","0.8"],"title":null,"orient":"none","legendX":879,"legendY":160,"strokeColor":"#222","padding":14,"symbolType":"M-1,-1H3.67V1H-1Z","symbolSize":324,"symbolStrokeWidth":0,"labelOffset":34,"rowPadding":6}}}},
{"data":{"name":"pa"},"transform":[{"filter":"datum.k=='d'"},{"window":[{"op":"row_number","as":"i"}]}],"mark":{"type":"line","interpolate":"catmull-rom-closed","clip":true,"stroke":"#111","strokeWidth":1.2,"strokeDash":[1.2,3.5],"opacity":0.65},"encoding":{"order":{"field":"i","type":"quantitative"},"detail":{"field":"n"}}},
{"data":{"name":"pa"},"transform":[{"filter":"datum.k=='c'"},{"window":[{"op":"row_number","as":"i"}]}],"mark":{"type":"line","interpolate":"catmull-rom-closed","clip":true,"stroke":"#111","strokeWidth":1.2},"encoding":{"order":{"field":"i","type":"quantitative"},"detail":{"field":"n"}}},
{"data":{"name":"pa"},"transform":[{"filter":"datum.k=='o'"},{"window":[{"op":"row_number","as":"i"}]}],"mark":{"type":"line","clip":true,"stroke":"#111","strokeWidth":1.4},"encoding":{"order":{"field":"i","type":"quantitative"},"detail":{"field":"n"}}},
{"data":{"name":"la"},"transform":[{"filter":"datum.t=='contour'"}],"mark":{"type":"text","clip":true,"color":"white","fontWeight":"bold","fontSize":21.5,"font":"Liberation Sans"},"encoding":{"text":{"field":"s"}}},
{"data":{"name":"la"},"transform":[{"filter":"datum.t=='water'"}],"mark":{"type":"text","clip":true,"color":"white","fontWeight":"bold","fontSize":26,"font":"Liberation Sans"},"encoding":{"text":{"field":"s"}}},
{"data":{"name":"na"},"transform":[{"filter":"datum.t=='tag'"}],"mark":{"type":"text","align":"left","color":"#111","fontWeight":"bold","fontSize":26,"font":"Liberation Sans"},"encoding":{"text":{"field":"s"}}},
{"data":{"name":"na"},"transform":[{"filter":"datum.t=='name'"}],"mark":{"type":"text","align":"left","color":"#111","fontSize":26,"font":"Liberation Sans"},"encoding":{"text":{"field":"s"}}}
]},
{"width":863,"height":91,"data":{"values":[{"a":1}]},"mark":{"type":"point","opacity":0},"encoding":{}},
{"width":863,"height":394,"encoding":{"x":{"field":"x","type":"quantitative","scale":{"domain":[40.45,56.58],"nice":false,"zero":false},"axis":{"values":[42,44,46,48,50,52,54,56],"title":"Latitude (°S)","titlePadding":12,"titleX":427}},"y":{"field":"y","type":"quantitative","scale":{"domain":[0,1000],"reverse":true,"nice":false,"zero":false},"axis":{"values":[0,200,400,600,800,1000],"title":"Depth (m)","titlePadding":31}}},
"layer":[
{"data":{"name":"pb"},"transform":[{"filter":"isValid(datum.v)"},{"window":[{"op":"row_number","as":"i"}]}],"mark":{"type":"line","interpolate":"catmull-rom-closed","clip":true,"strokeWidth":0},"encoding":{"order":{"field":"i","type":"quantitative"},"detail":{"field":"n"},"fill":{"field":"v","type":"nominal","scale":{"domain":["33.4","33.6","33.8","33.9","33.95","34.0","34.45","34.5","34.6","34.7","34.8","34.9","35.0","35.1","35.2","35.3","35.4"],"range":["#300078","#1c0080","#000080","#0000b4","#0010f0","#0040a8","#006e60","#00a820","#20c400","#60d800","#a0e000","#e0f000","#ffd800","#ffa800","#ff8000","#ff6000","#ff4000"]},"legend":{"values":["33.8","34.0","34.8","35.2"],"title":null,"orient":"none","legendX":873,"legendY":97,"strokeColor":"#222","padding":14,"symbolType":"M-1,-1H3.67V1H-1Z","symbolSize":324,"symbolStrokeWidth":0,"labelOffset":34,"rowPadding":6}}}},
{"data":{"name":"pb"},"transform":[{"filter":"datum.k=='d'"},{"window":[{"op":"row_number","as":"i"}]}],"mark":{"type":"line","interpolate":"catmull-rom-closed","clip":true,"stroke":"#111","strokeWidth":1,"strokeDash":[1.2,5],"opacity":0.6},"encoding":{"order":{"field":"i","type":"quantitative"},"detail":{"field":"n"}}},
{"data":{"name":"pb"},"transform":[{"filter":"datum.k=='c'"},{"window":[{"op":"row_number","as":"i"}]}],"mark":{"type":"line","interpolate":"catmull-rom-closed","clip":true,"stroke":"#111","strokeWidth":1.2},"encoding":{"order":{"field":"i","type":"quantitative"},"detail":{"field":"n"}}},
{"data":{"name":"pb"},"transform":[{"filter":"datum.k=='o'"},{"window":[{"op":"row_number","as":"i"}]}],"mark":{"type":"line","interpolate":"catmull-rom","clip":true,"stroke":"#111","strokeWidth":1},"encoding":{"order":{"field":"i","type":"quantitative"},"detail":{"field":"n"}}},
{"data":{"name":"lb"},"transform":[{"filter":"datum.t=='contour'"}],"mark":{"type":"text","clip":true,"color":"white","fontWeight":"bold","fontSize":21.5,"font":"Liberation Sans"},"encoding":{"text":{"field":"s"}}},
{"data":{"name":"lb"},"transform":[{"filter":"datum.t=='water'"}],"mark":{"type":"text","clip":true,"color":"white","fontWeight":"bold","fontSize":26,"font":"Liberation Sans"},"encoding":{"text":{"field":"s"}}},
{"data":{"name":"nb"},"transform":[{"filter":"datum.t=='tag'"}],"mark":{"type":"text","align":"left","color":"#111","fontWeight":"bold","fontSize":26,"font":"Liberation Sans"},"encoding":{"text":{"field":"s"}}},
{"data":{"name":"nb"},"transform":[{"filter":"datum.t=='name'"}],"mark":{"type":"text","align":"left","color":"#111","fontSize":26,"font":"Liberation Sans"},"encoding":{"text":{"field":"s"}}}
]},
{"width":863,"height":127,"data":{"values":[{"a":1}]},"mark":{"type":"point","opacity":0},"encoding":{}},
{"width":863,"height":394,"encoding":{"x":{"field":"x","type":"quantitative","scale":{"domain":[40.45,56.58],"nice":false,"zero":false},"axis":{"values":[41,42,43,44,45,46,47,48,49,50,51,52,53,54,55,56],"labelExpr":"datum.value%2==0?datum.label:''","title":"Latitude (°S)","titlePadding":10,"titleX":427}},"y":{"field":"y","type":"quantitative","scale":{"domain":[0,1000],"reverse":true,"nice":false,"zero":false},"axis":{"values":[0,200,400,600,800,1000],"title":"Depth (m)","titlePadding":27}}},
"layer":[
{"data":{"name":"pc"},"transform":[{"filter":"isValid(datum.v)"},{"window":[{"op":"row_number","as":"i"}]}],"mark":{"type":"line","interpolate":"catmull-rom-closed","clip":true,"strokeWidth":0},"encoding":{"order":{"field":"i","type":"quantitative"},"detail":{"field":"n"},"fill":{"field":"v","type":"nominal","scale":{"domain":["0","0.5","1","2","3","4","5","6","6.5","7","7.5","8","9","10","11","11.5","12","13","13.5","14","15","16"],"range":["#3a0080","#2c007c","#1c0078","#08007a","#00009c","#0000a0","#0000d0","#0020e0","#0040b0","#006e60","#00a030","#20b800","#60d800","#a0e000","#e0f000","#f4f000","#ffd800","#ffb000","#ff9000","#ff7000","#ff4000","#ff1800"]},"legend":{"values":["0","2","4","6","8","10","12","14","16"],"title":null,"orient":"none","legendX":875,"legendY":93,"strokeColor":"#222","padding":14,"symbolType":"M-1,-1H3.67V1H-1Z","symbolSize":400,"symbolStrokeWidth":0,"labelOffset":32,"rowPadding":6}}}},
{"data":{"name":"pc"},"transform":[{"filter":"datum.k=='d'"},{"window":[{"op":"row_number","as":"i"}]}],"mark":{"type":"line","interpolate":"catmull-rom-closed","clip":true,"stroke":"#111","strokeWidth":1.2,"strokeDash":[1.2,4],"opacity":0.6},"encoding":{"order":{"field":"i","type":"quantitative"},"detail":{"field":"n"}}},
{"data":{"name":"pc"},"transform":[{"filter":"datum.k=='c'"},{"window":[{"op":"row_number","as":"i"}]}],"mark":{"type":"line","interpolate":"catmull-rom-closed","clip":true,"stroke":"#111","strokeWidth":1.2},"encoding":{"order":{"field":"i","type":"quantitative"},"detail":{"field":"n"}}},
{"data":{"name":"lc"},"transform":[{"filter":"datum.t=='contour'"}],"mark":{"type":"text","clip":true,"color":"white","fontWeight":"bold","fontSize":21.5,"font":"Liberation Sans"},"encoding":{"text":{"field":"s"}}},
{"data":{"name":"lc"},"transform":[{"filter":"datum.t=='water'"}],"mark":{"type":"text","clip":true,"color":"white","fontWeight":"bold","fontSize":26,"font":"Liberation Sans"},"encoding":{"text":{"field":"s"}}},
{"data":{"name":"nc"},"transform":[{"filter":"datum.t=='tag'"}],"mark":{"type":"text","align":"left","color":"#111","fontWeight":"bold","fontSize":26,"font":"Liberation Sans"},"encoding":{"text":{"field":"s"}}},
{"data":{"name":"nc"},"transform":[{"filter":"datum.t=='name'"}],"mark":{"type":"text","align":"left","color":"#111","fontSize":26,"font":"Liberation Sans"},"encoding":{"text":{"field":"s"}}}
]}
]}
